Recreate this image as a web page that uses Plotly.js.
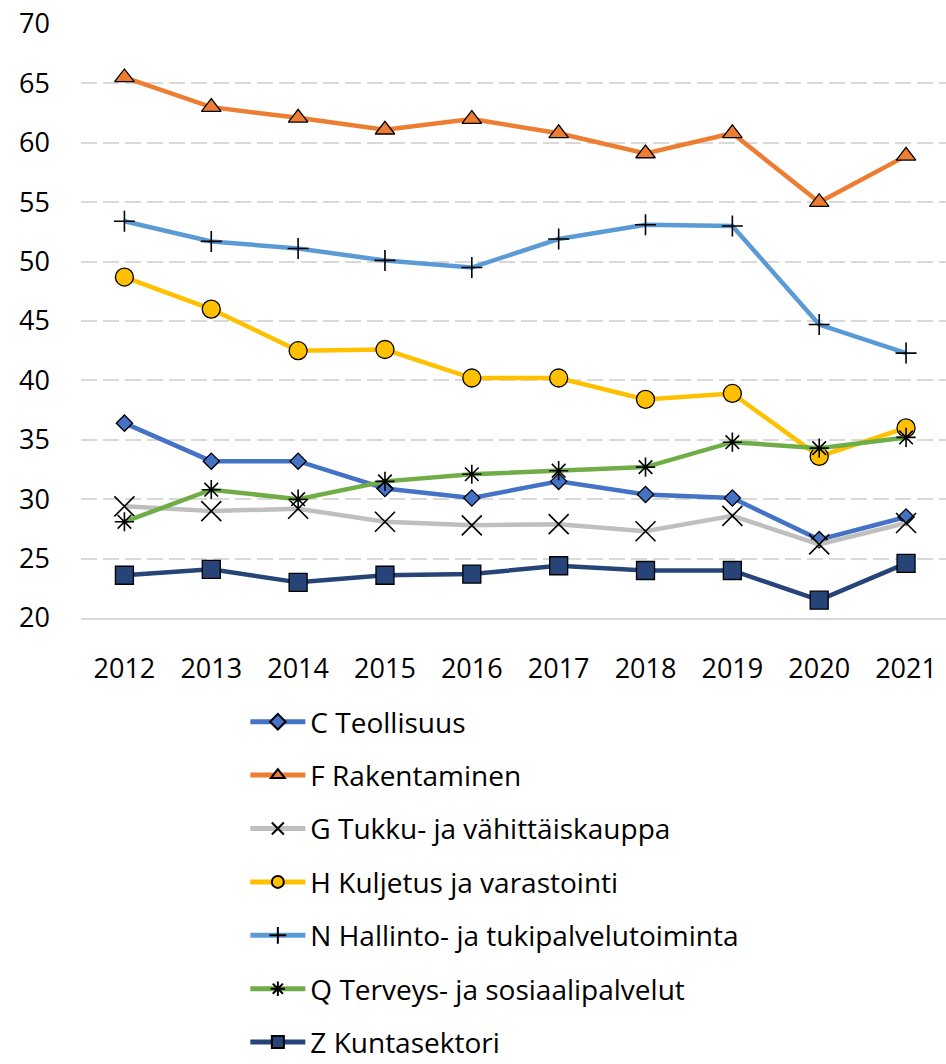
<!DOCTYPE html>
<html>
<head>
<meta charset="utf-8">
<script src="https://cdn.plot.ly/plotly-3.0.1.min.js"></script>
<style>html,body{margin:0;padding:0;background:#fff;}#chart{width:946px;height:1064px;}</style>
</head>
<body>
<div id="chart"></div>
<script>
const years = ['2012','2013','2014','2015','2016','2017','2018','2019','2020','2021'];
const names = ['C Teollisuus','F Rakentaminen','G Tukku- ja vähittäiskauppa','H Kuljetus ja varastointi','N Hallinto- ja tukipalvelutoiminta','Q Terveys- ja sosiaalipalvelut','Z Kuntasektori'];
const seriesC = [36.4, 33.2, 33.2, 30.9, 30.1, 31.5, 30.4, 30.1, 26.6, 28.5];
const seriesF = [65.5, 63.0, 62.1, 61.1, 62.0, 60.8, 59.1, 60.8, 55.0, 58.9];
const seriesG = [29.4, 29.0, 29.2, 28.1, 27.8, 27.9, 27.3, 28.6, 26.2, 28.0];
const seriesH = [48.7, 46.0, 42.5, 42.6, 40.2, 40.2, 38.4, 38.9, 33.6, 36.0];
const seriesN = [53.4, 51.7, 51.1, 50.1, 49.5, 51.9, 53.1, 53.0, 44.7, 42.3];
const seriesQ = [28.1, 30.8, 30.0, 31.5, 32.1, 32.4, 32.7, 34.8, 34.3, 35.2];
const seriesZ = [23.6, 24.1, 23.0, 23.6, 23.7, 24.4, 24.0, 24.0, 21.5, 24.6];
const yTicks = [20, 25, 30, 35, 40, 45, 50, 55, 60, 65, 70];

const values = [seriesC, seriesF, seriesG, seriesH, seriesN, seriesQ, seriesZ];
const colors = ['#4472C4','#ED7D31','#BFBFBF','#FFC000','#5B9BD5','#70AD47','#264478'];
const symbols = ['diamond','triangle-up','x-thin-open','circle','cross-thin-open','asterisk-open','square'];
const sizes = [12.5, 17, 20, 18, 15, 16, 18];

const traces = values.map((v, i) => ({
  type: 'scatter', mode: 'lines+markers', x: years, y: v, name: names[i],
  legendgroup: 'g' + i,
  line: {color: colors[i], width: 4.5},
  marker: {symbol: symbols[i], size: sizes[i], color: symbols[i].endsWith('open') ? '#000' : colors[i],
           line: {color: '#000', width: symbols[i].endsWith('open') ? 1.6 : 1.3}}
}));
const layout = {
  width: 946, height: 1064,
  margin: {l: 81, r: 0, t: 24, b: 446, autoexpand: false},
  paper_bgcolor: '#fff', plot_bgcolor: '#fff',
  font: {family: 'Open Sans, Noto Sans, sans-serif', color: '#000'},
  xaxis: {type: 'category', range: [-0.5, 9.46], showgrid: false, zeroline: false,
          showline: true, linecolor: '#D9D9D9', linewidth: 2,
          ticks: '', tickfont: {size: 27}, ticklabelstandoff: 26, fixedrange: true},
  yaxis: {range: [20, 70], tickvals: yTicks, showgrid: true, gridcolor: '#D9D9D9', griddash: '16px,6px', gridwidth: 2,
          zeroline: false, showline: false, ticks: '', tickfont: {size: 27}, ticklabelstandoff: 30},
  showlegend: true,
  legend: {orientation: 'v', x: 0.19, xanchor: 'left', y: -0.133, yanchor: 'top',
           font: {size: 28}, itemwidth: 55, tracegroupgap: 14, traceorder: 'grouped', itemsizing: 'constant'}
};
Plotly.newPlot('chart', traces, layout, {displayModeBar: false, staticPlot: true});
</script>
</body>
</html>
